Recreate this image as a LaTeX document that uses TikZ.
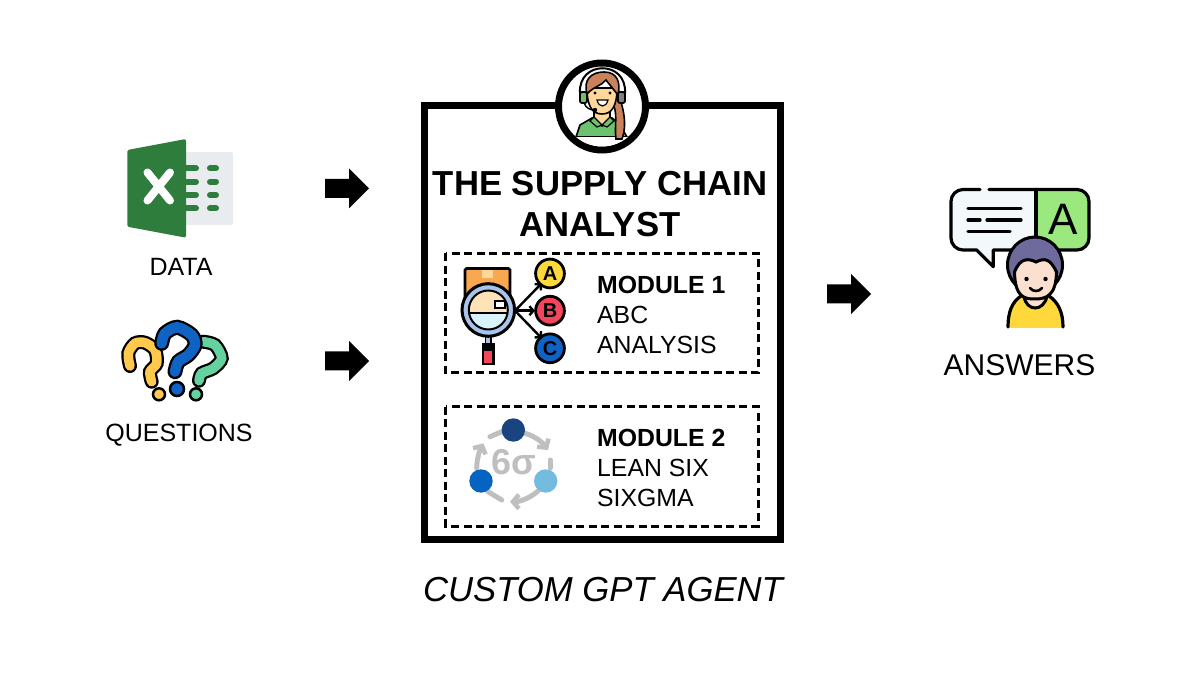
\documentclass[tikz,border=0pt]{standalone}
\usepackage{fontspec}
\setmainfont{Liberation Sans}
\usetikzlibrary{arrows.meta}
\definecolor{xlgreen}{HTML}{2E7D3C}
\definecolor{xlsheet}{HTML}{E9ECEF}
\definecolor{qyellow}{HTML}{FFC94D}
\definecolor{qblue}{HTML}{0E63C4}
\definecolor{qgreen}{HTML}{63D2A0}
\definecolor{hairbrown}{HTML}{C9825A}
\definecolor{skin}{HTML}{FFD79A}
\definecolor{shirtgreen}{HTML}{6CC26E}
\definecolor{boxorange}{HTML}{F9A850}
\definecolor{ringblue}{HTML}{A9C4EA}
\definecolor{iconred}{HTML}{F5455C}
\definecolor{iconyellow}{HTML}{FFD93B}
\definecolor{sigmagrey}{HTML}{BFBFBF}
\definecolor{sigmadark}{HTML}{1A4480}
\definecolor{sigmablue}{HTML}{0563C1}
\definecolor{sigmalight}{HTML}{74BBE0}
\definecolor{bubblewhite}{HTML}{F3F8FB}
\definecolor{bubblegreen}{HTML}{9BE87F}
\definecolor{hairviolet}{HTML}{6E6A9C}
\definecolor{faceman}{HTML}{FCE0CF}
\tikzset{
  caption/.style={font=\fontsize{25}{29}\selectfont,inner sep=0pt},
  modtext/.style={font=\fontsize{24.8}{30}\selectfont,align=left,anchor=west,inner sep=0pt},
  modbox/.style={draw,line width=3pt,dash pattern=on 8pt off 4.5pt},
  outline/.style={draw=black,line width=3.2pt,line join=round,line cap=round},
  sigmaarc/.style={draw=sigmagrey,line width=5pt,line cap=round},
  sigmahead/.style={sigmaarc,-{Straight Barb[length=6pt,width=14pt,line width=4.5pt]}},
  iconletter/.style={font=\bfseries\fontsize{20}{20}\selectfont,inner sep=0pt}
}
\begin{document}
\begin{tikzpicture}[x=1pt,y=-1pt]
  \useasboundingbox (0,0) rectangle (1200,676);
  % excel icon
  \fill [xlsheet,rounded corners=2pt] (183,152) rectangle (233,225);
  \foreach \y in {168.3,181.7,195,208.3} {
    \draw [xlgreen,line width=6pt,line cap=round] (187,\y) -- (196,\y);
    \draw [xlgreen,line width=6pt,line cap=round] (210,\y) -- (216,\y);
  }
  \fill [xlgreen,rounded corners=1.5pt] (127.3,150) -- (186,139) -- (186,237.7) -- (127.3,226.7) -- cycle;
  \draw [white,line width=8pt,line cap=round] (147.5,172.5) -- (170,200.5);
  \draw [white,line width=8pt,line cap=round] (170,172.5) -- (147.5,200.5);
  \node [caption] (data) at (181,267) {DATA};
  % question marks
  \draw [line width=14pt,line cap=round,black] plot [smooth] coordinates {(203.3,341.7) (215,345) (221.7,358.3) (213.3,368.3) (201.7,373.3) (199,380.7)};
  \draw [line width=9.5pt,line cap=round,qgreen] plot [smooth] coordinates {(203.3,341.7) (215,345) (221.7,358.3) (213.3,368.3) (201.7,373.3) (199,380.7)};
  \draw [line width=14pt,line cap=round,black] plot [smooth] coordinates {(130,366) (128.3,353.3) (135,343.3) (145,342.7) (155,350) (156.7,363.3) (150,371.7) (151.7,381.7)};
  \draw [line width=9.5pt,line cap=round,qyellow] plot [smooth] coordinates {(130,366) (128.3,353.3) (135,343.3) (145,342.7) (155,350) (156.7,363.3) (150,371.7) (151.7,381.7)};
  \draw [line width=15pt,line cap=round,black] plot [smooth] coordinates {(161.7,343.3) (165,333.3) (177.3,327.3) (191.7,335) (195,345) (188.3,355) (178.3,361.7) (175,371.7)};
  \draw [line width=10.5pt,line cap=round,qblue] plot [smooth] coordinates {(161.7,343.3) (165,333.3) (177.3,327.3) (191.7,335) (195,345) (188.3,355) (178.3,361.7) (175,371.7)};
  \filldraw [fill=qyellow,line width=2.5pt] (159,394.3) circle (6);
  \filldraw [fill=qblue,line width=2.5pt] (177,389) circle (7);
  \filldraw [fill=qgreen,line width=2.5pt] (196,394.3) circle (6);
  \node [caption] (questions) at (179,435) {QUESTIONS};
  % arrows
  \foreach \x/\y in {325/188.3,325/361,827/294} {
    \fill (\x,\y-9.5) -- (\x+24,\y-9.5) -- (\x+24,\y-20) -- (\x+44,\y) -- (\x+24,\y+20) -- (\x+24,\y+9.5) -- (\x,\y+9.5) -- cycle;
  }
  % agent frame
  \draw [line width=7.5pt,fill=white] (424.7,105.7) rectangle (780.3,539.3);
  \filldraw [fill=white,line width=7pt] (602,106.5) circle (43.5);
  % agent figure
  \begin{scope}
    \clip (602,106.5) circle (40);
    \fill [shirtgreen,draw=black,line width=1.6pt] (576,137) -- (580,125) -- (592,118) -- (612,118) -- (620,125) -- (627,137) -- cycle;
    \fill [white] (570,137) rectangle (634,150);
    \fill [hairbrown,draw=black,line width=1.6pt] (611,100) .. controls (619,112) and (614,125) .. (616,139) -- (622,139) .. controls (628,122) and (622,105) .. (618,92) -- cycle;
    \fill [skin,draw=black,line width=1.6pt] (594,108) -- (594,118) -- (602,126) -- (610,118) -- (610,108) -- cycle;
    \fill [shirtgreen,draw=black,line width=1.2pt] (594,117) -- (590,121) -- (597,127) -- (602,125) -- cycle;
    \fill [shirtgreen,draw=black,line width=1.2pt] (610,117) -- (614,121) -- (607,127) -- (602,125) -- cycle;
    \fill [skin,draw=black,line width=1.6pt] (587,88) .. controls (587,106) and (592,114) .. (602,114) .. controls (612,114) and (617,106) .. (617,88) -- cycle;
    \fill [hairbrown,draw=black,line width=1.6pt] (587,94) .. controls (583,80) and (591,72) .. (604,72) .. controls (617,72) and (621,82) .. (618,95) .. controls (614,90) and (609,84) .. (606,80) .. controls (601,86) and (593,87) .. (587,94) -- cycle;
    \draw [line width=2pt] (580,93) .. controls (578,60) and (627,60) .. (625,93);
    \filldraw [fill=shirtgreen,line width=1.8pt,rounded corners=2pt] (580,92) rectangle (587,103);
    \filldraw [fill=gray,line width=1.8pt,rounded corners=2pt] (618,92) rectangle (625,103);
    \draw [line width=1.4pt] (584,103) .. controls (586,108) and (590,110) .. (594,110);
    \fill (595,110) circle (2.2);
    \fill (595,93) circle (1.7);
    \fill (610,93) circle (1.7);
    \filldraw [fill=white,line width=1.2pt] (597,100) .. controls (599,108) and (606,108) .. (608,100) -- cycle;
  \end{scope}
  % title
  \node [font=\fontsize{34.7}{41}\bfseries\selectfont,align=center,inner sep=0pt] (title) at (600,204.5) {THE SUPPLY CHAIN\\ANALYST};
  % module 1
  \draw [modbox] (445.5,253.5) rectangle (758,373);
  \filldraw [fill=boxorange,line width=2.6pt,rounded corners=1.5pt] (465,300) -- (465,268.5) -- (510,268.5) -- (510,300) -- cycle;
  \fill [skin] (482,270) rectangle (493,278);
  \draw [line width=2.4pt,-{Straight Barb[length=4pt,width=9pt]}] (515,310.7) -- (541.7,283.3);
  \draw [line width=2.4pt,-{Straight Barb[length=4pt,width=9pt]}] (515,310.7) -- (535,310.7);
  \draw [line width=2.4pt,-{Straight Barb[length=4pt,width=9pt]}] (515,310.7) -- (541.7,338.3);
  \filldraw [fill=ringblue,line width=1.6pt] (485.5,335) rectangle (491,344);
  \fill (482,343.5) rectangle (494.5,349);
  \filldraw [fill=iconred,line width=2.4pt] (483,350) rectangle (493.5,364);
  \filldraw [fill=ringblue,line width=3pt] (488.3,310) circle (26.3);
  \begin{scope}
    \clip (488.3,310) circle (19.5);
    \fill [skin!70!white] (465,290) rectangle (512,313);
    \fill [cyan!15!white] (465,313) rectangle (512,335);
    \draw [line width=2.4pt] (465,313) -- (512,313);
  \end{scope}
  \filldraw [fill=white,line width=2pt] (495,301.5) rectangle (505,308.5);
  \draw [line width=2pt] (488.3,310) circle (19.5);
  \filldraw [fill=iconyellow,line width=2.8pt] (550,273.5) circle (14.4) node [iconletter] (lettera) {A};
  \filldraw [fill=iconred,line width=2.8pt] (550,310.7) circle (14.4) node [iconletter] (letterb) {B};
  \filldraw [fill=qblue,line width=2.8pt] (550,348.3) circle (14.4) node [iconletter] (letterc) {C};
  \node [modtext] (moduleone) at (597,315) {\textbf{MODULE 1}\\ABC\\ANALYSIS};
  % module 2
  \draw [modbox] (445.5,406.5) rectangle (758,526);
  \draw [sigmahead] (525,433.3) .. controls (535,436) and (543,443) .. (548,450);
  \draw [sigmaarc] (550,460) -- (550,468);
  \draw [sigmahead] (538,491) .. controls (530,498) and (520,501.7) .. (510,501.7);
  \draw [sigmaarc] (488,491.7) -- (501.7,500);
  \draw [sigmahead] (476.7,468.3) .. controls (476.7,458) and (480,450) .. (483.3,443.3);
  \draw [sigmaarc] (490,436.7) -- (501.7,431.7);
  \node [font=\bfseries\fontsize{36}{36}\selectfont,text=sigmagrey,inner sep=0pt] (sigma) at (514,462.5) {6σ};
  \fill [sigmadark] (513.3,430) circle (11.7);
  \fill [sigmablue] (481,481) circle (11.7);
  \fill [sigmalight] (545.7,481) circle (11.7);
  \node [modtext] (moduletwo) at (597,468) {\textbf{MODULE 2}\\LEAN SIX\\SIXGMA};
  \node [font=\itshape\fontsize{34.7}{35}\selectfont,inner sep=0pt] (agent) at (603,590) {CUSTOM GPT AGENT};
  % answers icon
  \fill [bubblewhite] (1036,189.5) -- (963,189.5) arc (-90:-180:12) -- (951,238) arc (180:90:12) -- (1036,250) -- cycle;
  \fill [bubblegreen] (1036,189.5) -- (1077,189.5) arc (-90:0:12) -- (1089,238) arc (0:90:12) -- (1036,250) -- cycle;
  \fill [bubblewhite] (976.7,249) -- (993.3,266.7) -- (993.3,249) -- cycle;
  \draw [outline] (980,189.5) -- (963,189.5) arc (-90:-180:12) -- (951,238) arc (180:90:12) -- (976.7,250) -- (993.3,266.7) -- (993.3,250) -- (1077,250) arc (90:0:12) -- (1089,201.5) arc (0:-90:12) -- (989,189.5);
  \draw [outline] (1036,189.5) -- (1036,250);
  \draw [outline] (968,208.3) -- (1021,208.3);
  \draw [outline] (968,220) -- (980,220);
  \draw [outline] (987,220) -- (1021,220);
  \draw [outline] (968,231.7) -- (1010,231.7);
  \node [font=\fontsize{44}{44}\selectfont,inner sep=0pt] (lettersmall) at (1063,219) {A};
  \fill [iconyellow] (1008,328) .. controls (1008,312) and (1012,302) .. (1021,296) -- (1049,296) .. controls (1058,302) and (1063,312) .. (1063,328) -- cycle;
  \draw [outline] (1008,327) .. controls (1008,312) and (1012,302) .. (1021,296);
  \draw [outline] (1063,327) .. controls (1063,312) and (1058,302) .. (1049,296);
  \filldraw [fill=faceman,line width=3pt] (1024,296) .. controls (1026,312) and (1044,312) .. (1047,296) -- cycle;
  \filldraw [fill=hairviolet,line width=3pt] (1035,265) ellipse (27.5 and 28);
  \filldraw [fill=faceman,line width=3pt] (1014.5,272) .. controls (1015,298) and (1025,299) .. (1035,299) .. controls (1047,299) and (1056,295) .. (1056.5,272) .. controls (1050,258) and (1044,258) .. (1036,262) .. controls (1028,258) and (1020,258) .. (1014.5,272) -- cycle;
  \fill (1026.5,279) circle (2.2);
  \fill (1045.5,279) circle (2.2);
  \draw [line width=2.6pt,line cap=round] (1030,288) .. controls (1033,292) and (1039,292) .. (1042,288);
  \node [font=\fontsize{30}{30}\selectfont,inner sep=0pt] (answers) at (1019.5,365) {ANSWERS};
\end{tikzpicture}
\end{document}
